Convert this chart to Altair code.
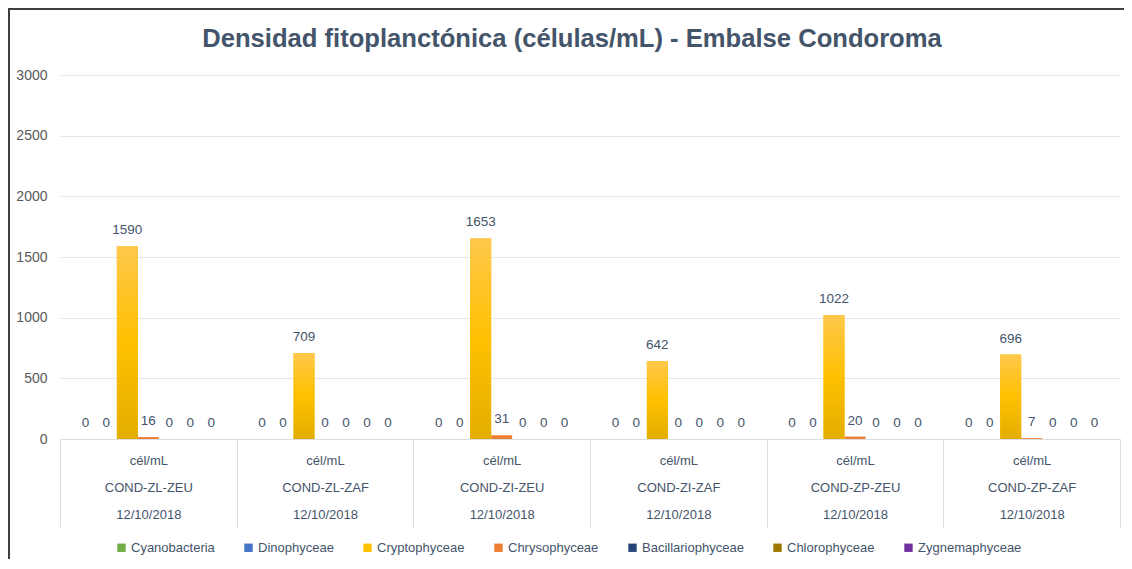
import altair as alt
import pandas as pd

samples = ["COND-ZL-ZEU", "COND-ZL-ZAF", "COND-ZI-ZEU", "COND-ZI-ZAF", "COND-ZP-ZEU", "COND-ZP-ZAF"]
unit = "cél/mL"
date = "12/10/2018"
species = ["Cyanobacteria", "Dinophyceae", "Cryptophyceae", "Chrysophyceae",
           "Bacillariophyceae", "Chlorophyceae", "Zygnemaphyceae"]
colors = ["#70AD47", "#4472C4", "#FFC000", "#ED7D31", "#264478", "#9E7700", "#7030A0"]

cyanobacteria = [0, 0, 0, 0, 0, 0]
dinophyceae = [0, 0, 0, 0, 0, 0]
cryptophyceae = [1590, 709, 1653, 642, 1022, 696]
chrysophyceae = [16, 0, 31, 0, 20, 7]
bacillariophyceae = [0, 0, 0, 0, 0, 0]
chlorophyceae = [0, 0, 0, 0, 0, 0]
zygnemaphyceae = [0, 0, 0, 0, 0, 0]

series = [cyanobacteria, dinophyceae, cryptophyceae, chrysophyceae,
          bacillariophyceae, chlorophyceae, zygnemaphyceae]

rows = []
for i, s in enumerate(samples):
    for sp, vals in zip(species, series):
        rows.append({"cat": f"{unit}|{s}|{date}", "species": sp, "value": vals[i]})
df = pd.DataFrame(rows)
cats = [f"{unit}|{s}|{date}" for s in samples]

FONT = "Liberation Sans, Arial, sans-serif"

x_enc = alt.X("cat:N", sort=cats,
              scale=alt.Scale(paddingInner=0, paddingOuter=0),
              axis=alt.Axis(title=None, labelAngle=0, grid=False,
                            labelExpr="split(datum.label, '|')",
                            labelLineHeight=27, labelPadding=-73,
                            labelFontSize=13, labelColor="#44546A", labelFont=FONT,
                            domain=True, domainColor="#D9DEE4",
                            ticks=True, tickBand="extent", tickSize=88,
                            tickColor="#D9DEE4"))
xo_enc = alt.XOffset("species:N", sort=species,
                     scale=alt.Scale(domain=species, paddingOuter=0.71, paddingInner=0))
y_enc = alt.Y("value:Q",
              scale=alt.Scale(domain=[0, 3000]),
              axis=alt.Axis(title=None, values=[0, 500, 1000, 1500, 2000, 2500, 3000],
                            format="d",
                            domain=False, ticks=False, labelPadding=13,
                            labelFontSize=14, labelColor="#595959", labelFont=FONT,
                            gridColor="#E3E6EB", gridWidth=1))

base = alt.Chart(df)

bars = base.mark_bar().encode(
    x=x_enc, xOffset=xo_enc, y=y_enc,
    color=alt.Color("species:N", sort=species,
                    scale=alt.Scale(domain=species, range=colors),
                    legend=alt.Legend(title=None, orient="none", direction="horizontal",
                                      legendX=55, legendY=466,
                                      symbolType="square", symbolSize=70,
                                      symbolStrokeWidth=0, labelFontSize=13,
                                      labelFont=FONT, labelColor="#44546A",
                                      labelOffset=3, columnPadding=27))
)

grad = alt.Gradient(gradient="linear",
                    stops=[alt.GradientStop(color="#FFC84C", offset=0),
                           alt.GradientStop(color="#FFC000", offset=0.5),
                           alt.GradientStop(color="#E3AE00", offset=1)],
                    x1=0, x2=0, y1=0, y2=1)

crypto = base.transform_filter(alt.datum.species == "Cryptophyceae").mark_bar(color=grad).encode(
    x=alt.X("cat:N", sort=cats), xOffset=alt.XOffset("species:N", sort=species), y="value:Q"
)

labels = base.mark_text(dy=-16, fontSize=13.5, font=FONT, color="#44546A", baseline="middle").encode(
    x=alt.X("cat:N", sort=cats), xOffset=alt.XOffset("species:N", sort=species),
    y="value:Q", text="value:Q"
)

frame = alt.Chart(alt.Data(values=[{"a": 1}])).mark_rule(color="#404040", strokeWidth=2, clip=False)
frame_left = frame.encode(x=alt.value(-51), y=alt.value(-67), y2=alt.value(500))
frame_top = frame.encode(x=alt.value(-52), x2=alt.value(1072), y=alt.value(-66))

chart = alt.layer(bars, crypto, labels, frame_left, frame_top).properties(
    width=1060, height=364,
    autosize=alt.AutoSizeParams(type="none"),
    padding={"left": 52, "top": 67, "right": 4, "bottom": 120},
    title=alt.TitleParams("Densidad fitoplanctónica (células/mL) - Embalse Condoroma",
                          font=FONT, fontSize=25.6, fontWeight="bold", color="#44546A",
                          anchor="middle", frame="group", dx=-18, offset=-66,
                          baseline="alphabetic"),
).configure_view(stroke=None)

chart.save("out.html", embed_options={"renderer": "svg", "actions": False})
